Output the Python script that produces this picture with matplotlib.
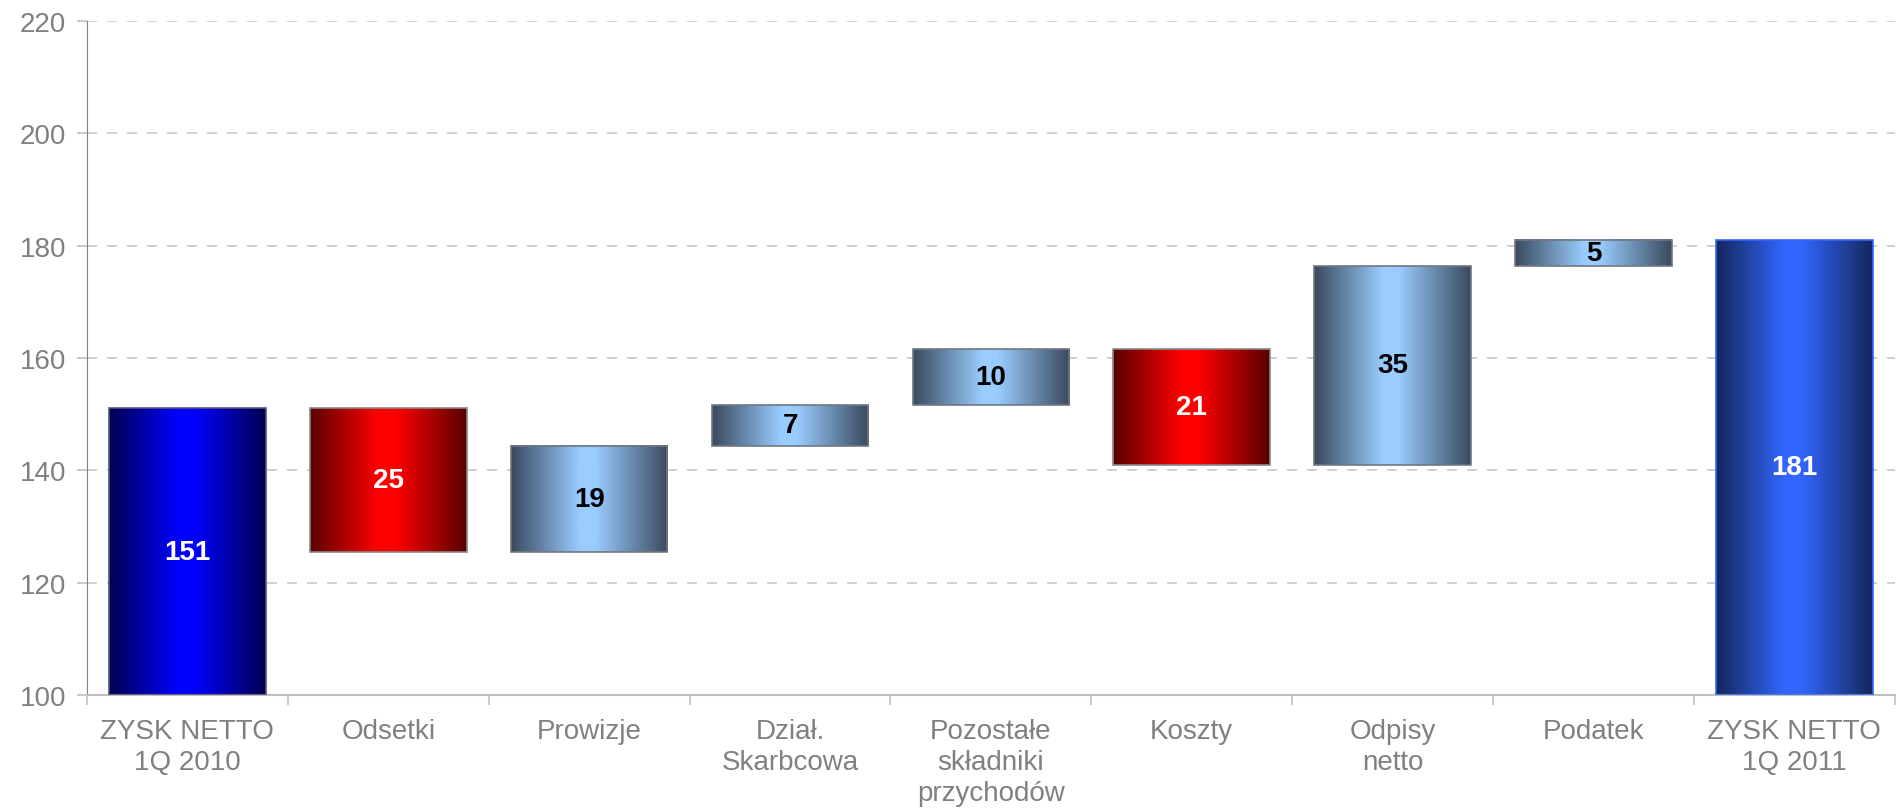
import numpy as np
import matplotlib.pyplot as plt
from matplotlib.colors import LinearSegmentedColormap
from matplotlib.patches import Rectangle

plt.rcParams['font.family'] = ['Liberation Sans', 'DejaVu Sans']

categories = ['ZYSK NETTO\n1Q 2010', 'Odsetki', 'Prowizje', 'Dział.\nSkarbcowa',
              'Pozostałe\nskładniki\nprzychodów', 'Koszty', 'Odpisy\nnetto', 'Podatek',
              'ZYSK NETTO\n1Q 2011']
start_value = 151.0
deltas = [-25.6, 19.0, 7.3, 9.9, -20.6, 35.3, 4.7]
end_value = 181.0
labels = ['151', '25', '19', '7', '10', '21', '35', '5', '181']
kinds = ['start', 'neg', 'pos', 'pos', 'pos', 'neg', 'pos', 'pos', 'end']

# gradient colours: edge, centre, outline, label colour
grad = {
    'start': ('#000050', '#0000ff', '#555577', 'white'),
    'neg': ('#5a0000', '#ff0000', '#888888', 'white'),
    'pos': ('#3a4a5e', '#99ccff', '#707880', 'black'),
    'end': ('#14275a', '#3366ff', '#3366ff', 'white'),
}

# compute bottoms / tops
bottoms, tops = [100.0], [start_value]
level = start_value
for d in deltas:
    new = level + d
    bottoms.append(min(level, new))
    tops.append(max(level, new))
    level = new
bottoms.append(100.0)
tops.append(end_value)

fig = plt.figure(figsize=(18.99, 8.12), dpi=100)
ax = fig.add_axes([0.0458, 0.143, 0.952, 0.83])

ax.set_xlim(-0.5, len(categories) - 0.5)
ax.set_ylim(100, 220)
ax.set_yticks(np.arange(100, 221, 20))
for y in np.arange(120, 221, 20):
    ax.axhline(y, color='#c8c8c8', lw=1.2, ls=(0, (6, 6)), zorder=0)

width = 0.78
xs = np.linspace(0, 1, 256)
for i, kind in enumerate(kinds):
    edge, centre, outline, tcol = grad[kind]
    cmap = LinearSegmentedColormap.from_list(
        kind, [(0, edge), (0.44, centre), (0.54, centre), (1, edge)])
    img = np.tile(xs, (2, 1))
    x0 = i - width / 2
    ax.imshow(img, cmap=cmap, extent=(x0, x0 + width, bottoms[i], tops[i]),
              aspect='auto', zorder=2, interpolation='bilinear')
    ax.add_patch(Rectangle((x0, bottoms[i]), width, tops[i] - bottoms[i],
                           fill=False, ec=outline, lw=1.2, zorder=3))
    ax.text(i, (bottoms[i] + tops[i]) / 2, labels[i], ha='center', va='center',
            color=tcol, fontsize=20, fontweight='bold', zorder=4)

ax.set_xticks(range(len(categories)))
ax.set_xticklabels(categories, fontsize=20, color='#808080', linespacing=1.25)
ax.set_xticks(np.arange(-0.5, len(categories), 1), minor=True)
ax.tick_params(axis='x', which='major', length=0, pad=17)
ax.tick_params(axis='x', which='minor', length=7, color='#c0c0c0', width=1.2)
ax.tick_params(axis='y', labelsize=20, labelcolor='#808080', length=7,
               color='#c0c0c0', width=1.2, pad=8)

for s in ['top', 'right']:
    ax.spines[s].set_visible(False)
ax.spines['left'].set_color('#808080')
ax.spines['bottom'].set_color('#c0c0c0')
ax.spines['bottom'].set_linewidth(1.5)

fig.savefig('out.png', dpi=100)
